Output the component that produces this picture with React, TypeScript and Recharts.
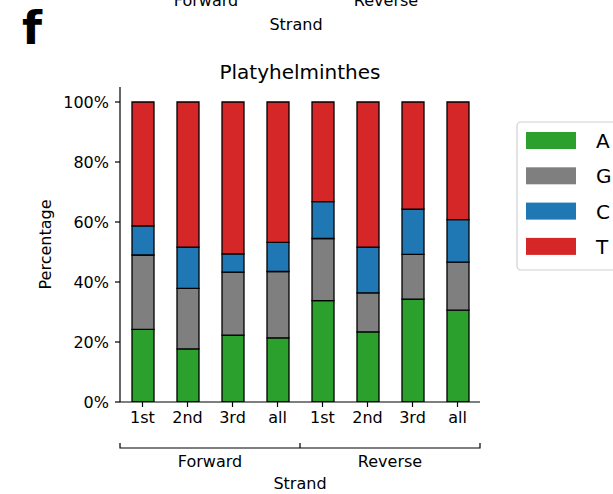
import React from 'react'
import { BarChart, Bar, XAxis, YAxis } from 'recharts'

// Codon-position nucleotide composition, Platyhelminthes
const POSITIONS = ['1st', '2nd', '3rd', 'all', '1st', '2nd', '3rd', 'all']
const STRANDS = ['Forward', 'Reverse']
const A_PCT = [24.2, 17.7, 22.3, 21.4, 33.8, 23.4, 34.3, 30.6]
const G_PCT = [24.8, 20.2, 21.0, 22.1, 20.7, 13.0, 14.9, 16.0]
const C_PCT = [9.7, 13.7, 6.1, 9.7, 12.3, 15.2, 15.1, 14.2]
const T_PCT = [41.3, 48.4, 50.6, 46.8, 33.2, 48.4, 35.7, 39.2]
const Y_TICKS = [0, 20, 40, 60, 80, 100]

const SERIES = [
  { key: 'A', color: '#2ca02c' },
  { key: 'G', color: '#7f7f7f' },
  { key: 'C', color: '#1f77b4' },
  { key: 'T', color: '#d62728' },
]

const data = POSITIONS.map((p, i) => ({
  id: i,
  pos: p,
  A: A_PCT[i],
  G: G_PCT[i],
  C: C_PCT[i],
  T: T_PCT[i],
}))

const FONT = '"DejaVu Sans", sans-serif'
const W = 613
const H = 494
// plot box
const PL = 120
const PR = 480
const PT = 87
const PB = 402

export default function App() {
  const mid = (PL + PR) / 2
  const tickStyle = { fill: '#000', fontSize: 16, fontFamily: FONT }
  return (
    <div style={{ position: 'absolute', left: 0, top: 0, width: W, height: H, background: '#fff', fontFamily: FONT }}>
      <BarChart
        width={W}
        height={H}
        data={data}
        margin={{ top: PT, right: W - PR, bottom: H - PB - 30, left: PL - 60 }}
        barCategoryGap={0}
      >
        <XAxis
          dataKey="id"
          height={30}
          interval={0}
          tickFormatter={(_v: number, i: number) => POSITIONS[i]}
          tick={tickStyle}
          tickSize={5}
          tickMargin={5}
          stroke="#000"
          axisLine={{ stroke: '#000', strokeWidth: 1.2 }}
          tickLine={{ stroke: '#000', strokeWidth: 1.2 }}
        />
        <YAxis
          width={60}
          domain={[0, 105]}
          ticks={Y_TICKS}
          tickFormatter={(v: number) => `${v}%`}
          tick={tickStyle}
          tickSize={5}
          tickMargin={6}
          stroke="#000"
          axisLine={{ stroke: '#000', strokeWidth: 1.2 }}
          tickLine={{ stroke: '#000', strokeWidth: 1.2 }}
          allowDataOverflow
        />
        {SERIES.map(s => (
          <Bar
            key={s.key}
            dataKey={s.key}
            stackId="nt"
            fill={s.color}
            stroke="#000"
            strokeWidth={1.3}
            barSize={22}
            isAnimationActive={false}
          />
        ))}
      </BarChart>

      <svg
        width={W}
        height={H}
        style={{ position: 'absolute', left: 0, top: 0, pointerEvents: 'none', fontFamily: FONT }}
      >
        {/* panel letter and tail of the panel above */}
        <text x={22} y={44} fontSize={46} fontWeight="bold" fill="#000">f</text>
        <text x={206} y={6} fontSize={16} textAnchor="middle" fill="#000">Forward</text>
        <text x={386} y={6} fontSize={16} textAnchor="middle" fill="#000">Reverse</text>
        <text x={296} y={30} fontSize={16} textAnchor="middle" fill="#000">Strand</text>

        <text x={mid} y={79} fontSize={20} textAnchor="middle" fill="#000">Platyhelminthes</text>
        <text
          x={0}
          y={0}
          fontSize={16}
          textAnchor="middle"
          fill="#000"
          transform={`translate(51 ${(PT + PB) / 2}) rotate(-90)`}
        >
          Percentage
        </text>

        {/* strand grouping bracket */}
        <path
          d={`M${PL} 443 V448 H${PR} V443 M${mid} 448 V443`}
          stroke="#000"
          strokeWidth={1.2}
          fill="none"
        />
        {STRANDS.map((s, i) => (
          <text key={s} x={PL + (i + 0.5) * (PR - PL) / 2} y={467} fontSize={16} textAnchor="middle" fill="#000">
            {s}
          </text>
        ))}
        <text x={mid} y={489} fontSize={16} textAnchor="middle" fill="#000">Strand</text>

        {/* legend */}
        <rect x={517} y={122} width={110} height={148} rx={4} fill="#fff" fillOpacity={0.8} stroke="#d0d0d0" strokeWidth={1.2} />
        {SERIES.map((s, i) => (
          <g key={s.key}>
            <rect x={526} y={132 + i * 35.3} width={50} height={17} fill={s.color} />
            <text x={596} y={148 + i * 35.3} fontSize={20} fill="#000">{s.key}</text>
          </g>
        ))}
      </svg>
    </div>
  )
}
